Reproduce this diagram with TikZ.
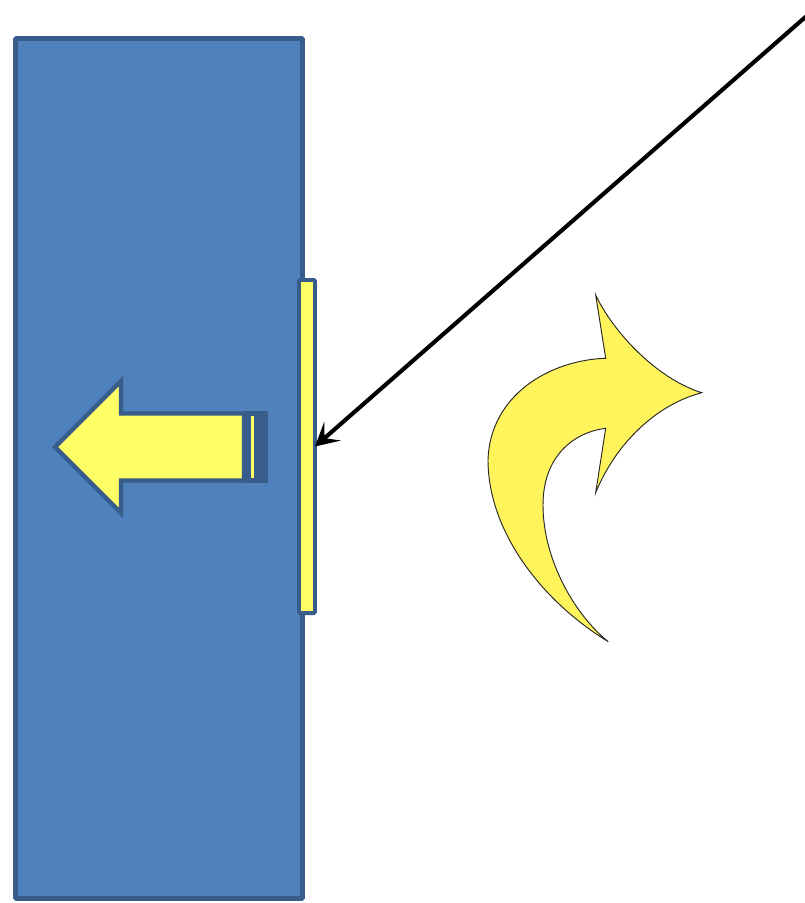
\documentclass[tikz,border=0pt]{standalone}
\usepackage{xcolor}
\definecolor{wallblue}{HTML}{4F81BD}
\definecolor{wallrim}{HTML}{385D8A}
\definecolor{plateyellow}{HTML}{FFFF66}
\definecolor{bendyellow}{HTML}{FFF45C}
\usepackage{tikz}
\usetikzlibrary{arrows.meta, positioning}

\begin{document}
\begin{tikzpicture}[x=0.3mm, y=-0.3mm,
	wall/.style={rectangle, draw=wallrim, fill=wallblue, line width=4.2pt, rounded corners=1pt,
	             minimum width=86.1mm, minimum height=258mm, inner sep=0pt, outer sep=0pt},
	plate/.style={rectangle, draw=wallrim, fill=plateyellow, line width=3.4pt, rounded corners=1pt,
	              minimum width=4.8mm, minimum height=99.9mm, inner sep=0pt, outer sep=0pt},
	push/.style={draw=wallrim, fill=plateyellow, line width=3.8pt, line join=miter},
	curlarrow/.style={draw=black!85, fill=bendyellow, line width=0.8pt},
	ray/.style={-{Stealth[length=7mm, width=7.5mm, inset=3.2mm]}, line width=3.5pt, draw=black}
	]
\useasboundingbox (0,0) rectangle (805,903);

\node[wall] (wall) at (159,468.5) {};
\node[plate] (plate) at (307,446.5) {};

% striped tail, then the arrow body
\fill[wallrim] (243,411) rectangle (268,483);
\fill[plateyellow] (250.5,416) rectangle (254,478);
\draw[push] (55,447) -- (121,381) -- (121,413.5) -- (244,413.5) -- (244,480.5)
	-- (121,480.5) -- (121,513) -- cycle;

% light comes in from the upper right
\coordinate (src) at (810,13);
\draw[ray] (src) -- (plate.east);

% curved arrow
\draw[curlarrow] (595.7,295) .. controls (612,330) and (655,378) .. (701.7,392.7)
	.. controls (655,405) and (615,445) .. (595.7,492.7)
	-- (605.7,428.3)
	.. controls (575,432) and (543,455) .. (543,505)
	.. controls (543,560) and (575,615) .. (608.3,641.7)
	.. controls (540,600) and (488,530) .. (488,460)
	.. controls (490,395) and (550,360) .. (605.7,358.3)
	-- cycle;
\end{tikzpicture}
\end{document}
